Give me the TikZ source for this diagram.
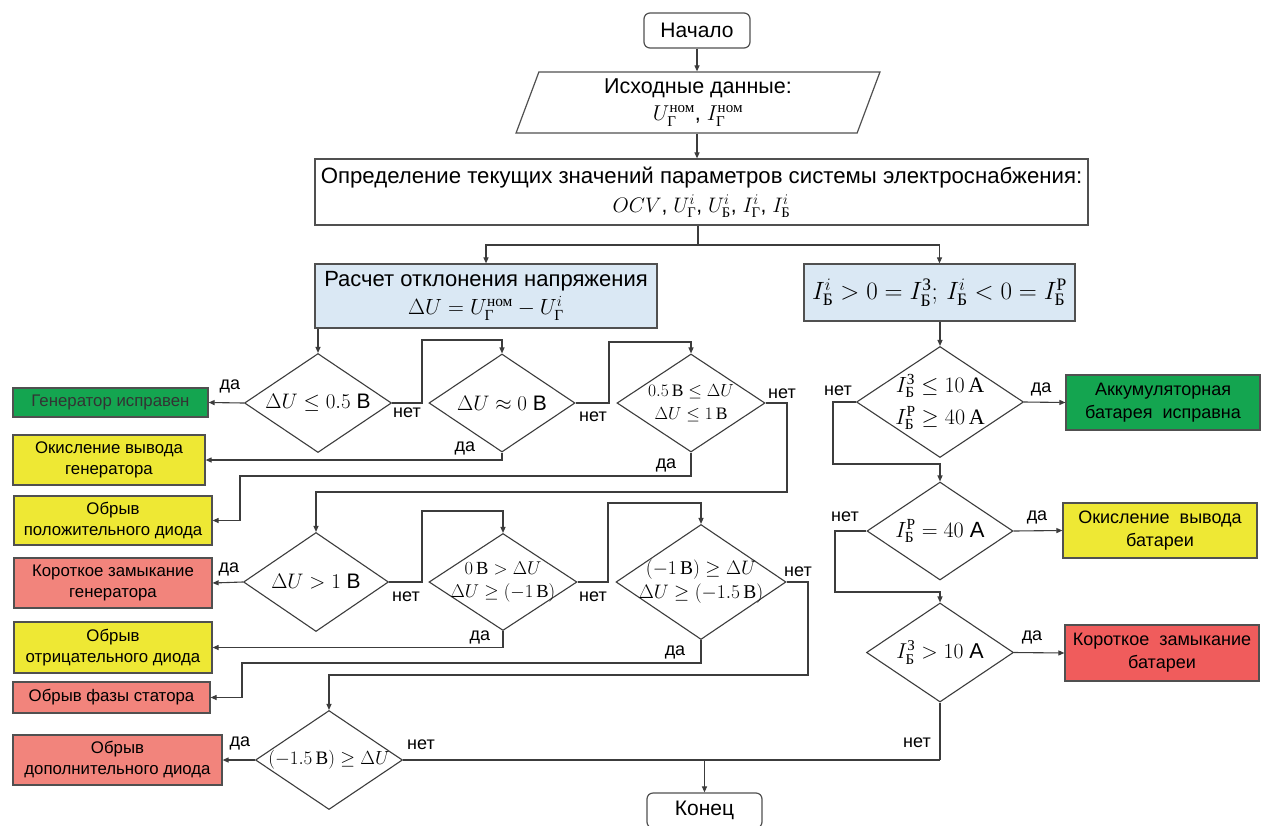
\RequirePackage{fix-cm}
\documentclass[tikz,border=0pt]{standalone}
\usepackage{amsmath}
\usepackage{fontspec}
\setmainfont{Liberation Sans}
\newfontfamily\cyrs{Liberation Serif}
\usetikzlibrary{shapes.geometric,arrows.meta}
\newcommand{\cy}[1]{\text{\cyrs #1}}
\definecolor{lc}{RGB}{60,60,60}
\definecolor{gfill}{RGB}{20,165,80}
\definecolor{yfill}{RGB}{238,232,52}
\definecolor{rfill}{RGB}{242,132,124}
\definecolor{rfilltwo}{RGB}{240,92,92}
\definecolor{bfill}{RGB}{218,232,244}
\definecolor{bord}{RGB}{80,80,80}
\tikzset{
  box/.style={draw=bord, line width=1.2pt, inner sep=2pt, align=center},
  outc/.style={box, font=\fontsize{16.8}{21}\selectfont},
  outr/.style={box, font=\fontsize{18}{23}\selectfont},
  dia/.style={shape=diamond, draw=lc, line width=1.1pt, inner sep=0pt, fill=white},
  dtxt/.style={inner sep=0pt, align=center},
  lbl/.style={font=\fontsize{18}{20}\selectfont, inner sep=0pt},
  ln/.style={draw=lc, line width=1.1pt},
  arr/.style={ln, -{Triangle[length=6pt,width=5pt]}}
}
\begin{document}
\begin{tikzpicture}[x=1pt,y=-1pt]
\useasboundingbox (0,0) rectangle (1261,825);
\fill[white] (0,0) rectangle (1261,825);

% top
\node[box, rounded corners=6pt, minimum width=106pt, minimum height=35pt, font=\fontsize{21}{25}\selectfont] (start) at (697,30.5) {Начало};
\node[box, trapezium, trapezium left angle=75, trapezium right angle=105, trapezium stretches=true, minimum width=364pt, minimum height=61pt, font=\fontsize{21.5}{27}\selectfont] (inp) at (698,102.5) {Исходные данные:\\ $U_{\cy{Г}}^{\cy{ном}}$, $I_{\cy{Г}}^{\cy{ном}}$};
\node[box, minimum width=773pt, minimum height=66pt, font=\fontsize{22.2}{29}\selectfont] (main) at (701.5,192) {Определение текущих значений параметров системы электроснабжения:\\ {\fontsize{21}{25}\selectfont$OCV$, $U_{\cy{Г}}^{i}$, $U_{\cy{Б}}^{i}$, $I_{\cy{Г}}^{i}$, $I_{\cy{Б}}^{i}$}};
\draw[arr] (start.south) -- (start.south |- inp.north);
\draw[arr] (inp.south -| start) -- (main.north -| start);
\coordinate (split) at (698,245);
\draw[ln] (main.south -| split) -- (split);
\node[box, fill=bfill, minimum width=342pt, minimum height=64pt, font=\fontsize{22}{28}\selectfont] (blueL) at (486,296) {Расчет отклонения напряжения\\ $\Delta U = U_{\cy{Г}}^{\cy{ном}} - U_{\cy{Г}}^{i}$};
\node[box, fill=bfill, minimum width=271pt, minimum height=57pt, font=\fontsize{25}{28}\selectfont] (blueR) at (939.5,292.5) {$I_{\cy{Б}}^{i} > 0 = I_{\cy{Б}}^{\cy{З}};\, I_{\cy{Б}}^{i} < 0 = I_{\cy{Б}}^{\cy{Р}}$};
\draw[arr] (split) -| (blueL.north);
\draw[arr] (split) -| (blueR.north);

% left diamonds
\node[dia, minimum width=147pt, minimum height=99pt] (d1) at (318,403) {};
\node[dtxt, font=\fontsize{21}{25}\selectfont] (d1t) at (d1) {$\Delta U \le 0.5$ В};
\node[dia, minimum width=146pt, minimum height=98pt] (d2) at (502,403) {};
\node[dtxt, font=\fontsize{21}{25}\selectfont] (d2t) at (d2) {$\Delta U \approx 0$ В};
\node[dia, minimum width=148pt, minimum height=98pt] (d3) at (691,403) {};
\node[dtxt, font=\fontsize{17.5}{23}\selectfont] (d3t) at (d3) {$0.5\,\cy{В} \le \Delta U$\\ $\Delta U \le 1\,\cy{В}$};
\node[dia, minimum width=145pt, minimum height=99pt] (d4) at (316,582) {};
\node[dtxt, font=\fontsize{21}{25}\selectfont] (d4t) at (d4) {$\Delta U > 1$ В};
\node[dia, minimum width=148pt, minimum height=97pt] (d5) at (503,582) {};
\node[dtxt, font=\fontsize{18.5}{23}\selectfont] (d5t) at (d5) {$0\,\cy{В} > \Delta U$\\ $\Delta U \ge (-1\,\cy{В})$};
\node[dia, minimum width=170pt, minimum height=115pt] (d6) at (701,582) {};
\node[dtxt, font=\fontsize{19.5}{24}\selectfont] (d6t) at (d6) {$(-1\,\cy{В}) \ge \Delta U$\\ $\Delta U \ge (-1.5\,\cy{В})$};
\node[dia, minimum width=147pt, minimum height=99pt] (d7) at (329,760) {};
\node[dtxt, font=\fontsize{19}{23}\selectfont] (d7t) at (d7) {$(-1.5\,\cy{В}) \ge \Delta U$};

% left outcomes
\node[outc, fill=gfill, minimum width=195pt, minimum height=29pt] (g1) at (110.5,402.5) {\color{black!80}Генератор исправен};
\node[outc, fill=yfill, minimum width=192pt, minimum height=50pt] (y1) at (109,460) {Окисление вывода\\ генератора};
\node[outc, fill=yfill, minimum width=198pt, minimum height=49pt] (y2) at (113,520.5) {Обрыв\\ положительного диода};
\node[outc, fill=rfill, minimum width=198pt, minimum height=50pt] (r1) at (113,583) {Короткое замыкание\\ генератора};
\node[outc, fill=yfill, minimum width=198pt, minimum height=51pt] (y3) at (113,647.5) {Обрыв\\ отрицательного диода};
\node[outc, fill=rfill, minimum width=197pt, minimum height=31pt] (r2) at (111.5,697.5) {Обрыв фазы статора};
\node[outc, fill=rfill, minimum width=209pt, minimum height=50pt] (r3) at (117.5,760) {Обрыв\\ дополнительного диода};

% right column
\node[dia, minimum width=167pt, minimum height=111pt] (d8) at (940,402) {};
\node[dtxt, font=\fontsize{22}{32}\selectfont] (d8t) at (d8) {$I_{\cy{Б}}^{\cy{З}} \le 10\,\cy{А}$\\ $I_{\cy{Б}}^{\cy{Р}} \ge 40\,\cy{А}$};
\node[dia, minimum width=146pt, minimum height=98pt] (d9) at (940,531) {};
\node[dtxt, font=\fontsize{22}{25}\selectfont] (d9t) at (d9) {$I_{\cy{Б}}^{\cy{Р}} = 40$ А};
\node[dia, minimum width=147pt, minimum height=99pt] (d10) at (940,652.5) {};
\node[dtxt, font=\fontsize{21.5}{25}\selectfont] (d10t) at (d10) {$I_{\cy{Б}}^{\cy{З}} > 10$ А};
\node[outr, fill=gfill, minimum width=194pt, minimum height=55pt] (gR) at (1163,402.5) {Аккумуляторная\\ батарея\ \ исправна};
\node[outr, fill=yfill, minimum width=194pt, minimum height=55pt] (yR) at (1160,530.5) {Окисление\ \ вывода\\ батареи};
\node[outr, fill=rfilltwo, minimum width=194pt, minimum height=56pt] (rR) at (1162,653) {Короткое\ \ замыкание\\ батареи};

\node[box, rounded corners=6pt, minimum width=115pt, minimum height=35pt, font=\fontsize{21}{25}\selectfont] (end) at (704.5,810.5) {Конец};

% connectors row 1
\draw[arr] (blueL.south -| d1) -- (d1.north);
\draw[arr] (d1.west) -- (g1.east);
\draw[arr] (d1.east) -- (422,403) -- (422,340) -| (d2.north);
\draw[arr] (d2.east) -- (609,403) -- (609,342) -| (d3.north);
\draw[arr] (d3.east) -- (787,403) -- (787,492) -| (d4.north);
\draw[arr] (d2.south) -- (502,460) -- (y1.east);
\draw[arr] (d3.south) -- (691,476) -- (240,476) |- (y2.east);
% row 2
\draw[arr] (d4.west) -- (r1.east);
\draw[arr] (d4.east) -- (422,582) -- (422,511) -| (d5.north);
\draw[arr] (d5.east) -- (608,582) -- (608,503) -| (d6.north);
\draw[arr] (d6.east) -- (808,582) -- (808,675) -| (d7.north);
\draw[arr] (d5.south) -- (503,647.5) -- (y3.east);
\draw[arr] (d6.south) -- (701,663) -- (242,663) |- (r2.east);
% row 3
\draw[arr] (d7.west) -- (r3.east);
\coordinate (join) at (940,760);
\draw[ln] (d7.east) -- (join);
\draw[ln] (d10.south) -- (join);
\draw[arr] (end.north |- join) -- (end.north);
% right
\draw[arr] (blueR.south -| d8) -- (d8.north);
\draw[arr] (d8.east) -- (gR.west);
\draw[arr] (d8.west) -- (833,402) -- (833,464) -| (d9.north);
\draw[arr] (d9.east) -- (yR.west);
\draw[arr] (d9.west) -- (835,531) -- (835,592) -| (d10.north);
\draw[arr] (d10.east) -- (rR.west);

% labels
\node[lbl] (l1) at (230,386) {да};
\node[lbl] (l2) at (407,413) {нет};
\node[lbl] (l3) at (593,417) {нет};
\node[lbl] (l4) at (782,394) {нет};
\node[lbl] (l5) at (465,448) {да};
\node[lbl] (l6) at (666,465) {да};
\node[lbl] (l7) at (229,569) {да};
\node[lbl] (l8) at (406,597) {нет};
\node[lbl] (l9) at (593,597) {нет};
\node[lbl] (l10) at (798,572) {нет};
\node[lbl] (l11) at (480,637) {да};
\node[lbl] (l12) at (675,652) {да};
\node[lbl] (l13) at (240,743) {да};
\node[lbl] (l14) at (421,745) {нет};
\node[lbl] (l15) at (917,743) {нет};
\node[lbl] (l16) at (1041,389) {да};
\node[lbl] (l17) at (838,391) {нет};
\node[lbl] (l18) at (1037,517) {да};
\node[lbl] (l19) at (845,517) {нет};
\node[lbl] (l20) at (1032,637) {да};
\end{tikzpicture}
\end{document}
